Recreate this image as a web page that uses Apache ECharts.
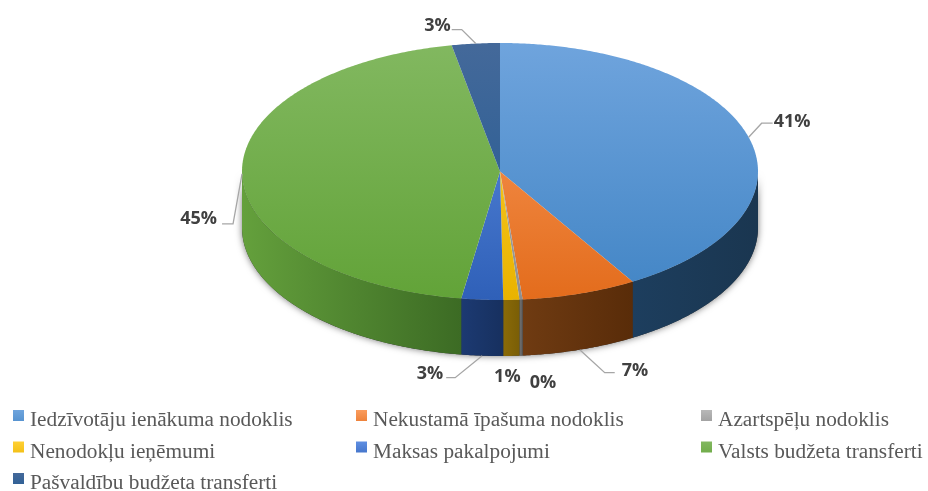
<!DOCTYPE html>
<html>
<head>
<meta charset="utf-8">
<style>
  html, body { margin: 0; padding: 0; background: #fff; }
  #chart { width: 928px; height: 491px; }
</style>
<script src="https://cdn.jsdelivr.net/npm/echarts@6/dist/echarts.min.js"></script>
</head>
<body>
<div id="chart"></div>
<script>
const categories = [
  "Iedzīvotāju ienākuma nodoklis",
  "Nekustamā īpašuma nodoklis",
  "Azartspēļu nodoklis",
  "Nenodokļu ieņēmumi",
  "Maksas pakalpojumi",
  "Valsts budžeta transferti",
  "Pašvaldību budžeta transferti",
];
const shares = [41.4, 7.2, 0.2, 1.0, 2.6, 44.6, 3.0];

// top face gradient: top, bottom
const topColors = [
  ["#6fa4dd", "#4285c5"],
  ["#fa9c5e", "#e36c1c"],
  ["#b8b8b8", "#8f8f8f"],
  ["#ffd034", "#e9b300"],
  ["#5f8fe2", "#2f60b8"],
  ["#82b860", "#62a338"],
  ["#44699a", "#215a92"],
];
// side wall gradient: left, right
const sideColors = [
  ["#1d3e5e", "#1a3650"],
  ["#6f3b12", "#592c09"],
  ["#707070", "#5e5e5e"],
  ["#8a6a08", "#7a5e06"],
  ["#1c3a72", "#17305f"],
  ["#64a03c", "#3c6b24"],
  ["#1c3a72", "#17305f"],
];

const cx = 500, cy = 171.5, rx = 258, ry = 128.5, depth = 56;

// leader line: elbow offset from the slice anchor, then end of the line, then text spot
const leaders = [
  { elbow: [13, -14], end: [24, -14], text: [25, -15], align: "left" },
  { elbow: [25, 23], end: [35, 23], text: [42, 21], align: "left" },
  { text: [22, 27], align: "center" },
  { text: [-4, 21], align: "center" },
  { elbow: [-27, 22], end: [-36, 22], text: [-39, 18], align: "right" },
  { elbow: [-9, 50], end: [-20, 50], text: [-25, 45], align: "right" },
  { elbow: [-14, -14], end: [-24, -14], text: [-25, -18], align: "right" },
];

const total = shares.reduce((a, b) => a + b, 0);
const starts = [];
shares.reduce((acc, v, i) => {
  starts[i] = acc;
  return acc + v;
}, 0);

const toDeg = (share) => (share / total) * 360;

// angle is clockwise from 12 o'clock
const rim = (deg, drop) => {
  const r = (deg * Math.PI) / 180;
  return [cx + rx * Math.sin(r), cy - ry * Math.cos(r) + (drop || 0)];
};

const arc = (from, to, drop) => {
  const pts = [];
  const n = Math.max(2, Math.ceil((to - from) * 2));
  for (let k = 0; k <= n; k++) pts.push(rim(from + ((to - from) * k) / n, drop));
  return pts;
};

const gradient = (x, y, x2, y2, c) => ({
  type: "linear",
  x,
  y,
  x2,
  y2,
  global: true,
  colorStops: [
    { offset: 0, color: c[0] },
    { offset: 1, color: c[1] },
  ],
});

const renderSlice = (i) => (params, api) => {
  const from = toDeg(starts[i]);
  const to = from + toDeg(api.value(0));
  const children = [];

  // only the front half of the wall can be seen
  const a = Math.max(from, 90);
  const b = Math.min(to, 270);
  if (b > a) {
    const upper = arc(a, b, 0);
    const lower = arc(a, b, depth).reverse();
    const xs = upper.map((p) => p[0]);
    children.push({
      type: "polygon",
      shape: { points: upper.concat(lower) },
      style: {
        fill: gradient(Math.min(...xs), 0, Math.max(...xs), 0, sideColors[i]),
      },
    });
  }

  children.push({
    type: "polygon",
    shape: { points: [[cx, cy]].concat(arc(from, to, 0)) },
    style: {
      fill: gradient(0, cy - ry, 0, cy + ry, topColors[i]),
    },
  });

  const mid = (from + to) / 2;
  const anchor = rim(mid, mid > 100 && mid < 260 ? depth : 0);
  const l = leaders[i];
  if (l.elbow) {
    children.push({
      type: "polyline",
      shape: {
        points: [
          anchor,
          [anchor[0] + l.elbow[0], anchor[1] + l.elbow[1]],
          [anchor[0] + l.end[0], anchor[1] + l.end[1]],
        ],
      },
      style: { stroke: "#a6a6a6", lineWidth: 1.3, fill: null },
      z2: 5,
    });
  }
  children.push({
    type: "text",
    x: anchor[0] + l.text[0],
    y: anchor[1] + l.text[1],
    style: {
      text: Math.round(api.value(0)) + "%",
      font: 'bold 18px "Open Sans"',
      fill: "#404040",
      align: l.align,
      verticalAlign: "middle",
    },
    z2: 6,
  });

  return { type: "group", children };
};

// soft shadow under the whole pie
const renderBase = () => ({
  type: "polygon",
  shape: { points: arc(90, 270, 0).concat(arc(90, 270, depth).reverse()) },
  style: {
    fill: "#333",
    shadowBlur: 7,
    shadowColor: "rgba(0,0,0,0.55)",
  },
});

const series = [
  {
    type: "custom",
    name: "base",
    coordinateSystem: "none",
    silent: true,
    z: 1,
    data: [0],
    renderItem: renderBase,
  },
].concat(
  categories.map((name, i) => ({
    type: "custom",
    name,
    coordinateSystem: "none",
    z: 2,
    data: [shares[i]],
    itemStyle: {
      color: {
        type: "linear",
        x: 0,
        y: 0,
        x2: 0,
        y2: 1,
        colorStops: [
          { offset: 0, color: topColors[i][0] },
          { offset: 1, color: topColors[i][1] },
        ],
      },
    },
    renderItem: renderSlice(i),
  }))
);

// swatch sits above the text centre: the icon box runs on below the square
const legendBase = {
  orient: "vertical",
  top: 410,
  height: 120,
  padding: 0,
  itemWidth: 11,
  itemHeight: 21,
  itemGap: 10.5,
  icon: "path://M0 0H11V11H0ZM0 21L0 21",
  selectedMode: false,
  textStyle: {
    fontFamily: "Liberation Serif",
    fontSize: 21.3,
    color: "#595959",
    padding: [0, 0, 0, 1],
    lineHeight: 20,
  },
};

const chart = echarts.init(document.getElementById("chart"));
chart.setOption({
  animation: false,
  backgroundColor: "#fff",
  legend: [
    { ...legendBase, left: 13, data: [categories[0], categories[3], categories[6]] },
    { ...legendBase, left: 356, data: [categories[1], categories[4]] },
    { ...legendBase, left: 701, data: [categories[2], categories[5]] },
  ],
  series,
});
</script>
</body>
</html>
